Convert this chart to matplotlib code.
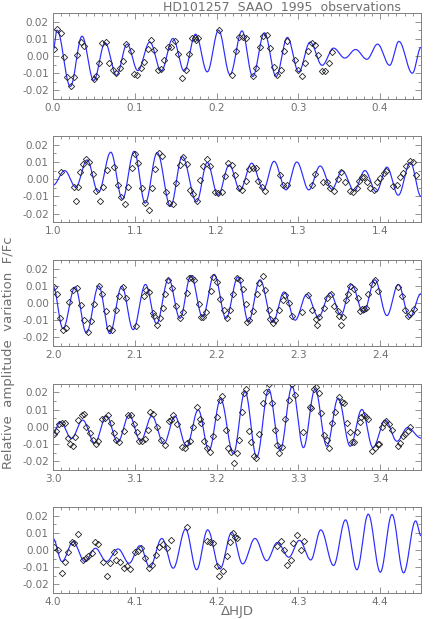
import numpy as np
import matplotlib
matplotlib.use("Agg")
import matplotlib.pyplot as plt
from matplotlib.ticker import MultipleLocator, FormatStrFormatter

TITLE = "HD101257  SAAO  1995  observations"
YLABEL = "Relative  amplitude  variation  F/Fc"
XLABEL = "\u0394HJD"
NIGHT_START = [0.0, 1.0, 2.0, 3.0, 4.0]

# fitted curve: successive turning points (time, value)
fit_t1 = [0.0, 0.0049, 0.0212, 0.0355, 0.0498, 0.0637, 0.0776, 0.0906, 0.1037, 0.1184, 0.1323,
          0.1466, 0.1605, 0.1744, 0.1886, 0.2025, 0.2164, 0.2311, 0.2442, 0.2585, 0.2728,
          0.2866, 0.3005, 0.3144, 0.3291, 0.343, 0.3569, 0.37, 0.3838, 0.3969, 0.4116,
          0.423, 0.4394, 0.45]
fit_v1 = [0.003, 0.015, -0.0177, 0.0115, -0.0142, 0.0077, -0.0112, 0.0069, -0.0085, 0.0081, -0.0088,
          0.0102, -0.0088, 0.0127, -0.0092, 0.015, -0.0108, 0.0146, -0.0119, 0.0135, -0.0119,
          0.0108, -0.0092, 0.0081, -0.0054, 0.0046, -0.0012, 0.0038, -0.0019, 0.0069, -0.0054,
          0.0085, -0.0100, 0.005]
fit_t2 = [1.0, 1.0143, 1.0278, 1.0416, 1.0555, 1.0706, 1.0849, 1.0992, 1.1127, 1.1274, 1.1437,
          1.158, 1.1756, 1.1886, 1.2017, 1.2156, 1.2287, 1.243, 1.2572, 1.2703, 1.285,
          1.2981, 1.3128, 1.3267, 1.341, 1.3536, 1.3683, 1.3814, 1.3953, 1.4083, 1.4222,
          1.4369, 1.45]
fit_v2 = [-0.0035, 0.005, -0.0046, 0.0112, -0.0077, 0.0157, -0.0116, 0.0162, -0.0139, 0.0155, -0.0158,
          0.0131, -0.0131, 0.0097, -0.0093, 0.0083, -0.0062, 0.0093, -0.0058, 0.0104, -0.0062,
          0.0100, -0.0062, 0.0077, -0.0058, 0.005, -0.0066, 0.005, -0.0073, 0.007, -0.0093,
          0.0097, -0.010]
fit_t3 = [2.0, 2.0122, 2.027, 2.0408, 2.0559, 2.0694, 2.0841, 2.098, 2.1131, 2.1266, 2.1413,
          2.1552, 2.1686, 2.1829, 2.1972, 2.2115, 2.2262, 2.2389, 2.2532, 2.2687, 2.2826,
          2.296, 2.3103, 2.3246, 2.3389, 2.352, 2.3651, 2.3797, 2.3936, 2.4083, 2.4222,
          2.4361, 2.45]
fit_v3 = [0.0097, -0.0149, 0.0093, -0.0174, 0.0099, -0.0178, 0.0097, -0.0155, 0.0108, -0.012, 0.0141,
          -0.0089, 0.016, -0.0081, 0.0166, -0.0089, 0.0151, -0.0108, 0.0135, -0.0112, 0.0064,
          -0.010, 0.005, -0.0081, 0.0058, -0.007, 0.0108, -0.0058, 0.0135, -0.0073, 0.0108,
          -0.0085, 0.0054]
fit_t4 = [3.0, 3.009, 3.0225, 3.0363, 3.051, 3.0653, 3.0792, 3.0931, 3.107, 3.1209, 3.1356,
          3.149, 3.1633, 3.1776, 3.1907, 3.205, 3.2205, 3.2348, 3.2491, 3.2638, 3.2777,
          3.2924, 3.3062, 3.3205, 3.3348, 3.3487, 3.3634, 3.3777, 3.3912, 3.4063, 3.4206,
          3.4336, 3.45]
fit_v4 = [-0.0039, 0.0029, -0.0068, 0.0039, -0.0094, 0.0064, -0.0088, 0.0068, -0.0082, 0.0062, -0.0098,
          0.0062, -0.0113, 0.0098, -0.0137, 0.016, -0.0156, 0.0205, -0.0176, 0.0219, -0.0137,
          0.0234, -0.0121, 0.0219, -0.0113, 0.0166, -0.0113, 0.0101, -0.0121, 0.0039, -0.0084,
          -0.0005, -0.0065]
fit_t5 = [4.0, 4.011, 4.0245, 4.0388, 4.0519, 4.0653, 4.0796, 4.0931, 4.1062, 4.1184, 4.1331,
          4.147, 4.1621, 4.1756, 4.1891, 4.2042, 4.2185, 4.2319, 4.247, 4.2613, 4.2744,
          4.2883, 4.3013, 4.3152, 4.3275, 4.343, 4.3577, 4.3716, 4.3855, 4.4002, 4.4145,
          4.4287, 4.4434, 4.45]
fit_v5 = [0.0067, -0.0067, 0.0048, -0.0067, 0.001, -0.0067, 0.0006, -0.0077, 0.0025, -0.010, 0.0067,
          -0.0106, 0.0121, -0.0115, 0.0117, -0.011, 0.0102, -0.0081, 0.0067, -0.0062, 0.0044,
          -0.0042, 0.0056, -0.0058, 0.0117, -0.009, 0.0175, -0.0115, 0.0208, -0.0129, 0.0206,
          -0.0133, 0.0169, 0.0083]

# observations
obs_t1 = [0.0008, 0.0049, 0.0094, 0.0131, 0.0171, 0.0216, 0.0253, 0.0298, 0.0339, 0.038,
          0.0498, 0.0531, 0.0559, 0.0604, 0.0649, 0.069, 0.0735, 0.0772, 0.0817, 0.0853,
          0.0898, 0.0951, 0.0992, 0.1033, 0.1074, 0.1111, 0.116, 0.12, 0.1241, 0.1282,
          0.1323, 0.136, 0.14, 0.1445, 0.1486, 0.1531, 0.158, 0.1625, 0.1658, 0.1699,
          0.1735, 0.1748, 0.1776, 0.2025, 0.2193, 0.2238, 0.2278, 0.2319, 0.236, 0.2442,
          0.2483, 0.2532, 0.2572, 0.2613, 0.2654, 0.2703, 0.2744, 0.2785, 0.2826, 0.2866,
          0.296, 0.3001, 0.3042, 0.3083, 0.3124, 0.3165, 0.3205, 0.3242, 0.3287, 0.3328,
          0.3373, 0.3414]
obs_v1 = [0.004, 0.0158, 0.0135, -0.0008, -0.0121, -0.0175, -0.0121, 0.0006, 0.0083, 0.006,
          -0.0133, -0.0119, -0.004, 0.0075, 0.0081, -0.0038, -0.0081, -0.0098, -0.0071, -0.0027,
          0.0069, 0.0031, -0.0102, -0.0108, -0.0069, -0.0035, 0.004, 0.0092, 0.0033, -0.0079,
          -0.0073, -0.0023, 0.0054, 0.0054, 0.0085, 0.0013, -0.0127, -0.0081, 0.0013, 0.0104,
          0.0104, 0.0092, 0.0104, 0.015, -0.0108, 0.0029, 0.0108, 0.0112, 0.0104, -0.0119,
          -0.0071, 0.0054, 0.0117, 0.0123, 0.0046, -0.0065, -0.011, -0.0081, 0.0031, 0.0088,
          -0.0021, -0.0081, -0.0115, -0.004, 0.0027, 0.0077, 0.0062, 0.0008, -0.0085, -0.0085,
          -0.0038, 0.0021]
obs_t2 = [1.0094, 1.0253, 1.0286, 1.031, 1.0335, 1.0367, 1.04, 1.0441, 1.049, 1.0531,
          1.0572, 1.0617, 1.0657, 1.0751, 1.0796, 1.0837, 1.0882, 1.0923, 1.096, 1.1,
          1.1041, 1.1086, 1.1127, 1.1168, 1.1209, 1.125, 1.1291, 1.1335, 1.1376, 1.1417,
          1.1466, 1.1503, 1.1548, 1.1592, 1.1633, 1.1674, 1.1715, 1.1756, 1.1797, 1.1837,
          1.1882, 1.1923, 1.1976, 1.2017, 1.2062, 1.2103, 1.2144, 1.2185, 1.223, 1.2271,
          1.2311, 1.2356, 1.2401, 1.2442, 1.2479, 1.2511, 1.2552, 1.2597, 1.2777, 1.2817,
          1.2858, 1.3165, 1.3201, 1.3307, 1.3352, 1.3393, 1.3434, 1.3483, 1.352, 1.3573,
          1.3626, 1.3667, 1.3712, 1.3744, 1.3781, 1.3806, 1.3838, 1.3879, 1.3924, 1.3965,
          1.4002, 1.4042, 1.4067, 1.4157, 1.4206, 1.4238, 1.4279, 1.4312, 1.4361, 1.4402,
          1.4443]
obs_v2 = [0.0044, -0.0048, -0.0128, -0.0046, 0.0039, 0.0087, 0.0116, 0.0099, 0.0029, -0.0071,
          -0.0128, -0.0048, 0.0054, 0.0073, -0.0031, -0.0106, -0.0147, -0.0043, 0.0064, 0.0147,
          0.0097, -0.005, -0.0139, -0.0178, -0.005, 0.006, 0.0151, 0.0135, -0.0073, -0.0139,
          -0.0147, -0.0023, 0.0081, 0.0128, 0.0087, -0.0062, -0.0085, -0.0128, -0.0004, 0.0077,
          0.0116, 0.0077, -0.0073, -0.0081, -0.0073, 0.0019, 0.0093, 0.0081, 0.0023, -0.005,
          -0.0062, -0.0012, 0.0058, 0.0064, 0.0064, -0.001, -0.0048, -0.0066, 0.0023, -0.0033,
          -0.0033, -0.0035, 0.0033, -0.0019, -0.0015, -0.005, -0.0066, 0.0004, 0.0039, -0.0015,
          -0.0066, -0.0073, -0.005, -0.001, 0.0012, 0.0015, -0.0015, -0.005, -0.0062, -0.0015,
          0.0008, 0.0035, 0.005, -0.0039, -0.0031, 0.0012, 0.0035, 0.0077, 0.0108, 0.010,
          0.0025]
obs_t3 = [2.0016, 2.0045, 2.0082, 2.0122, 2.0163, 2.02, 2.0241, 2.0294, 2.0339, 2.038,
          2.0425, 2.0465, 2.0506, 2.0563, 2.0604, 2.0645, 2.0686, 2.0727, 2.0767, 2.0808,
          2.0853, 2.0898, 2.1013, 2.1111, 2.1143, 2.1176, 2.1217, 2.1233, 2.127, 2.1307,
          2.1348, 2.1368, 2.1409, 2.145, 2.1499, 2.1552, 2.1584, 2.1633, 2.1666, 2.1695,
          2.1723, 2.1784, 2.1813, 2.1837, 2.187, 2.1927, 2.196, 2.2001, 2.2042, 2.2091,
          2.2123, 2.2164, 2.2205, 2.2254, 2.2287, 2.2319, 2.236, 2.2368, 2.2401, 2.2442,
          2.2491, 2.2523, 2.2564, 2.2597, 2.2638, 2.2654, 2.2687, 2.272, 2.2768, 2.2809,
          2.2842, 2.2883, 2.2923, 2.3046, 2.312, 2.3169, 2.321, 2.3234, 2.3258, 2.3316,
          2.3348, 2.3397, 2.3438, 2.3479, 2.3503, 2.352, 2.3544, 2.3585, 2.3609, 2.3634,
          2.3683, 2.3724, 2.3748, 2.3773, 2.3797, 2.383, 2.3855, 2.3895, 2.3936, 2.3977,
          2.4214, 2.4263, 2.4304, 2.4336, 2.4377, 2.441]
obs_v3 = [0.0091, 0.005, -0.0089, -0.0155, -0.0147, 0.0004, 0.0077, 0.0089, -0.0012, -0.0097,
          -0.017, -0.0104, -0.0004, 0.0097, 0.0054, -0.0048, -0.0147, -0.0158, -0.0043, 0.0039,
          0.0093, 0.0031, -0.0135, 0.0039, 0.0077, 0.0066, -0.0058, -0.0077, -0.0129, -0.0089,
          -0.0027, 0.0054, 0.0131, 0.0085, -0.0015, -0.0085, -0.005, 0.0058, 0.0143, 0.0143,
          0.0131, -0.0004, -0.0081, -0.0081, -0.005, 0.007, 0.0151, 0.012, 0.0023, -0.0043,
          -0.0085, -0.0039, 0.005, 0.0147, 0.0131, 0.0083, -0.0004, -0.0108, -0.010, -0.0046,
          0.005, 0.0116, 0.0155, 0.0077, -0.0039, -0.0093, -0.0116, -0.010, -0.0043, 0.0015,
          0.0046, 0.0, -0.0077, -0.0054, 0.0044, -0.0043, -0.0093, -0.0128, -0.0081, -0.0027,
          0.0031, 0.005, -0.0019, -0.0046, -0.0073, -0.0128, -0.0081, 0.0019, 0.005, 0.010,
          0.0081, 0.0031, -0.0046, -0.0035, -0.0035, -0.0027, 0.005, 0.0112, 0.0135, 0.007,
          0.0093, 0.0039, -0.0039, -0.0073, -0.0058, -0.0035]
obs_t4 = [3.0012, 3.0041, 3.0073, 3.011, 3.0147, 3.0184, 3.0212, 3.0245, 3.027, 3.031,
          3.0351, 3.0376, 3.0408, 3.0449, 3.049, 3.0523, 3.0555, 3.0596, 3.0637, 3.067,
          3.071, 3.0751, 3.0776, 3.0808, 3.0874, 3.0923, 3.0955, 3.0988, 3.1021, 3.1053,
          3.1086, 3.1127, 3.116, 3.1192, 3.1225, 3.1266, 3.1323, 3.1364, 3.1413, 3.1445,
          3.147, 3.1519, 3.1576, 3.1609, 3.1641, 3.1674, 3.1715, 3.1764, 3.1797, 3.1813,
          3.1846, 3.1886, 3.1919, 3.196, 3.2009, 3.2042, 3.2066, 3.2115, 3.214, 3.2172,
          3.2213, 3.2246, 3.2278, 3.2311, 3.2336, 3.236, 3.2401, 3.2425, 3.2458, 3.2483,
          3.2523, 3.2572, 3.2605, 3.2646, 3.2679, 3.2711, 3.2736, 3.2768, 3.2801, 3.2842,
          3.2891, 3.2924, 3.2956, 3.3062, 3.3144, 3.316, 3.3193, 3.3218, 3.325, 3.3283,
          3.3316, 3.3348, 3.3373, 3.3414, 3.3446, 3.3503, 3.3536, 3.356, 3.3593, 3.3626,
          3.3658, 3.3683, 3.3716, 3.3748, 3.3765, 3.3797, 3.3822, 3.3846, 3.3904, 3.3936,
          3.3969, 3.3985, 3.4018, 3.4051, 3.4075, 3.4108, 3.4149, 3.4214, 3.4247, 3.4279,
          3.4304, 3.4336, 3.4361]
obs_v4 = [-0.0039, -0.0027, 0.0016, 0.0023, 0.0023, -0.0066, -0.0098, -0.011, -0.0059, 0.0039,
          0.007, 0.0074, -0.0004, -0.0035, -0.0078, -0.0101, -0.0082, 0.0043, 0.0049, 0.007,
          0.002, -0.0035, -0.0074, -0.0086, -0.0027, 0.007, 0.0066, 0.0016, -0.0031, -0.0082,
          -0.0082, -0.007, -0.002, 0.0086, 0.0074, 0.0, -0.0078, -0.0107, 0.0035, 0.0039,
          0.0066, 0.0016, -0.0117, -0.0125, -0.0094, -0.0082, -0.0004, 0.0117, 0.0047, 0.0023,
          -0.0082, -0.0121, -0.0144, -0.0055, 0.0059, 0.0156, 0.018, -0.002, -0.0125, -0.0144,
          -0.0211, -0.0152, -0.0078, 0.0086, 0.0195, 0.0219, -0.0027, -0.0086, -0.0172, -0.018,
          -0.0039, 0.014, 0.0203, 0.025, 0.014, -0.002, -0.0105, -0.0152, -0.0117, 0.0043,
          0.0156, 0.0246, 0.0183, -0.0031, 0.0117, 0.0109, 0.0219, 0.0234, 0.0195, 0.0082,
          -0.0047, -0.0078, -0.0121, 0.002, 0.0086, 0.0172, 0.0144, 0.014, 0.002, -0.0031,
          -0.009, -0.0086, -0.0031, 0.0027, 0.0055, 0.007, 0.0059, 0.0043, -0.014, -0.0125,
          -0.0101, -0.0098, 0.0, 0.002, 0.0031, 0.0016, -0.002, -0.0109, -0.0094, -0.0051,
          -0.0039, -0.0023, -0.0004]
obs_t5 = [4.0016, 4.0065, 4.0106, 4.0147, 4.0188, 4.0229, 4.0261, 4.031, 4.0367, 4.04,
          4.0433, 4.0474, 4.0514, 4.0555, 4.0613, 4.0661, 4.0702, 4.0751, 4.0776, 4.0817,
          4.0866, 4.0906, 4.0947, 4.1004, 4.1045, 4.1078, 4.1127, 4.1168, 4.1209, 4.1258,
          4.1299, 4.1348, 4.1397, 4.1437, 4.1633, 4.1878, 4.1919, 4.196, 4.2001, 4.2034,
          4.2074, 4.2123, 4.2164, 4.2197, 4.2229, 4.2254, 4.2744, 4.2785, 4.2826, 4.2866,
          4.2907, 4.294, 4.2981, 4.303, 4.3071]
obs_v5 = [0.0015, -0.0002, -0.0133, -0.0071, -0.0013, 0.0044, 0.004, 0.009, -0.0056, -0.0044,
          -0.0033, -0.0017, 0.0048, 0.0033, -0.0067, -0.0152, -0.0075, -0.0013, -0.0056, -0.0067,
          -0.0106, -0.0094, -0.0113, -0.0013, -0.0006, 0.001, -0.0048, -0.0102, -0.009, -0.0029,
          0.0015, 0.0033, 0.001, 0.0056, 0.0133, 0.0054, 0.0048, 0.004, -0.0094, -0.0152,
          -0.0121, -0.0033, 0.0048, 0.0098, 0.0075, 0.0067, 0.0025, 0.0052, -0.0002, -0.0087,
          -0.0056, 0.004, 0.0087, -0.0002, 0.0052]

FITS = [(fit_t1, fit_v1), (fit_t2, fit_v2), (fit_t3, fit_v3), (fit_t4, fit_v4), (fit_t5, fit_v5)]
OBS = [(obs_t1, obs_v1), (obs_t2, obs_v2), (obs_t3, obs_v3), (obs_t4, obs_v4), (obs_t5, obs_v5)]

GREY = "#808080"
TEXT = "#707070"


def smooth_through(tk, vk, n=40):
    """Join the turning points with half-cosine arcs."""
    ts, vs = [], []
    for i in range(len(tk) - 1):
        s = np.linspace(0, 1, n, endpoint=False)
        ts.append(tk[i] + (tk[i + 1] - tk[i]) * s)
        vs.append(vk[i] + (vk[i + 1] - vk[i]) * (1 - np.cos(np.pi * s)) / 2)
    ts.append([tk[-1]])
    vs.append([vk[-1]])
    return np.concatenate(ts), np.concatenate(vs)


fig = plt.figure(figsize=(4.36, 6.19), dpi=100)
bottoms = [0.840, 0.641, 0.441, 0.241, 0.042]

for k, x0 in enumerate(NIGHT_START):
    ax = fig.add_axes([0.1216, bottoms[k], 0.844, 0.139])
    t, v = smooth_through(*FITS[k])
    ax.plot(t, v, color="#2a2aff", lw=0.85)
    ax.plot(OBS[k][0], OBS[k][1], ls="none", marker="D", ms=3.2,
            mfc="none", mec="#222222", mew=0.6)
    ax.set_xlim(x0, x0 + 0.45)
    ax.set_ylim(-0.025, 0.025)
    ax.xaxis.set_major_locator(MultipleLocator(0.1))
    ax.xaxis.set_minor_locator(MultipleLocator(0.01))
    ax.yaxis.set_major_locator(MultipleLocator(0.01))
    ax.yaxis.set_minor_locator(MultipleLocator(0.005))
    ax.xaxis.set_major_formatter(FormatStrFormatter("%.1f"))
    ax.yaxis.set_major_formatter(FormatStrFormatter("%.2f"))
    ax.tick_params(which="both", direction="in", top=True, right=True,
                   color=GREY, labelcolor=TEXT, labelsize=7.5, width=0.6, pad=3)
    ax.tick_params(which="major", length=4.5)
    ax.tick_params(which="minor", length=2.5)
    for sp in ax.spines.values():
        sp.set_color(GREY)
        sp.set_linewidth(0.7)

fig.text(0.647, 0.999, TITLE, ha="center", va="top", fontsize=9, color=TEXT)
fig.text(0.02, 0.43, YLABEL, rotation=90, ha="center", va="center", fontsize=9.5, color=TEXT)
fig.text(0.545, 0.012, XLABEL, ha="center", va="center", fontsize=9.5, color=TEXT)

fig.savefig("out.png", dpi=100)
